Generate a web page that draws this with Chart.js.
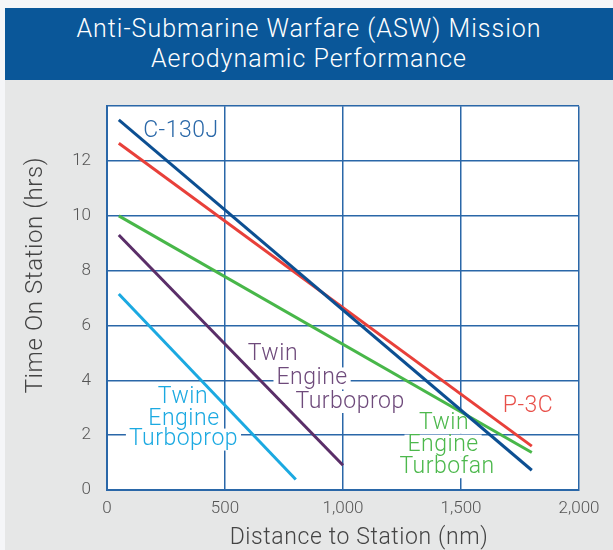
<!DOCTYPE html>
<html>
<head>
<meta charset="utf-8">
<script src="https://cdn.jsdelivr.net/npm/chart.js@4.4.0/dist/chart.umd.min.js"></script>
<style>
  html, body { margin: 0; padding: 0; background: #f5f6f8; }
  body { width: 613px; height: 550px; position: relative; overflow: hidden; font-family: Roboto, sans-serif; }
  #titleBar {
    position: absolute; left: 5px; top: 8px; width: 608px; height: 72px;
    background: #0a5799; color: #fff; text-align: center; font-weight: 300;
    font-size: 25px; line-height: 30px; padding-top: 6px; box-sizing: border-box; letter-spacing: 1px;
  }
  #chartBox { position: absolute; left: 5px; top: 80px; width: 608px; height: 470px; background: #e6e7e7; }
</style>
</head>
<body>
<div id="titleBar">Anti-Submarine Warfare (ASW) Mission<br>Aerodynamic Performance</div>
<div id="chartBox"><canvas id="aswChart"></canvas></div>
<script>
// data
const seriesNames = ['C-130J', 'P-3C', 'Twin Engine Turbofan', 'Twin Engine Turboprop (large)', 'Twin Engine Turboprop'];
const startNm = [50, 50, 50, 50, 50];
const endNm = [1800, 1800, 1800, 1000, 800];
const startHrs = [13.5, 12.65, 10.0, 9.3, 7.15];
const endHrs = [0.72, 1.6, 1.37, 0.9, 0.38];
const distanceTicks = [0, 500, 1000, 1500, 2000];
const hourTicks = [0, 2, 4, 6, 8, 10, 12];

const lineColors = ['#0c4f92', '#e8403a', '#48b749', '#5a2e68', '#1ba9e1'];
const gridBlue = '#2a67a8';

// in-chart labels (anchored in data units)
const chartLabels = [
    { text: 'C-130J', x: 313, y: 13.08, color: '#2a68a8' },
    { text: 'P-3C', x: 1784, y: 3.06, color: '#e8504a' },
    { text: 'Twin', x: 1428, y: 2.45, color: '#4cb84c' },
    { text: 'Engine', x: 1424, y: 1.62, color: '#4cb84c' },
    { text: 'Turbofan', x: 1441, y: 0.83, color: '#4cb84c' },
    { text: 'Twin', x: 703, y: 4.94, color: '#6e4a7b' },
    { text: 'Engine', x: 869, y: 4.07, color: '#6e4a7b' },
    { text: 'Turboprop', x: 1030, y: 3.21, color: '#6e4a7b' },
    { text: 'Twin', x: 322, y: 3.39, color: '#1ba9e1' },
    { text: 'Engine', x: 326, y: 2.59, color: '#1ba9e1' },
    { text: 'Turboprop', x: 324, y: 1.84, color: '#1ba9e1' }
];
const labelFont = '300 23px Roboto';

const datasets = seriesNames.map((name, i) => ({
    label: name,
    data: [{ x: startNm[i], y: startHrs[i] }, { x: endNm[i], y: endHrs[i] }],
    borderColor: lineColors[i],
    borderWidth: 3,
    pointRadius: 0,
    fill: false
}));

const lineLabels = {
    id: 'lineLabels',
    beforeDraw(chart) {
        const { ctx, chartArea: a } = chart;
        ctx.save();
        ctx.fillStyle = '#ffffff';
        ctx.fillRect(a.left, a.top, a.right - a.left, a.bottom - a.top);
        ctx.restore();
    },
    beforeDatasetsDraw(chart) {
        const { ctx, scales } = chart;
        ctx.save();
        ctx.font = labelFont;
        ctx.letterSpacing = '0.5px';
        ctx.fillStyle = '#ffffff';
        chartLabels.forEach(l => {
            const w = ctx.measureText(l.text).width;
            const px = scales.x.getPixelForValue(l.x);
            const py = scales.y.getPixelForValue(l.y);
            ctx.fillRect(px - w / 2 - 3, py - 11, w + 6, 22);
        });
        ctx.restore();
    },
    afterDatasetsDraw(chart) {
        const { ctx, scales, chartArea: a } = chart;
        ctx.save();
        ctx.font = labelFont;
        ctx.letterSpacing = '0.5px';
        ctx.textAlign = 'center';
        ctx.textBaseline = 'middle';
        chartLabels.forEach(l => {
            ctx.fillStyle = l.color;
            ctx.fillText(l.text, scales.x.getPixelForValue(l.x), scales.y.getPixelForValue(l.y));
        });
        // axis titles
        ctx.fillStyle = '#444';
        ctx.font = '300 23px Roboto';
        ctx.letterSpacing = '0.6px';
        ctx.fillText('Distance to Station (nm)', a.left + (a.right - a.left) / 2 + 16, chart.height - 12);
        ctx.translate(31, a.top + (a.bottom - a.top) / 2 - 23);
        ctx.rotate(-Math.PI / 2);
        ctx.font = '300 24px Roboto';
        ctx.fillText('Time On Station (hrs)', 0, 0);
        ctx.restore();
    }
};

document.addEventListener('DOMContentLoaded', () => {
    const ctx = document.getElementById('aswChart');
    new Chart(ctx, {
        type: 'line',
        data: { datasets: datasets },
        options: {
            responsive: true,
            maintainAspectRatio: false,
            animation: false,
            layout: { padding: { top: 24, right: 34, left: 0, bottom: 0 } },
            plugins: { legend: { display: false }, tooltip: { enabled: false } },
            scales: {
                x: {
                    type: 'linear',
                    min: distanceTicks[0],
                    max: distanceTicks[distanceTicks.length - 1],
                    afterBuildTicks: s => { s.ticks = distanceTicks.map(v => ({ value: v })); },
                    afterFit: s => { s.height = 60; },
                    grid: { color: gridBlue, lineWidth: 1.5, drawTicks: false },
                    border: { color: gridBlue, width: 2 },
                    ticks: {
                        padding: 9,
                        color: '#555',
                        font: { family: 'Roboto', size: 17, weight: 300 },
                        callback: v => v.toLocaleString('en-US')
                    }
                },
                y: {
                    min: 0,
                    max: 14,
                    afterBuildTicks: s => { s.ticks = hourTicks.concat([14]).map(v => ({ value: v })); },
                    afterFit: s => { s.width = 102; },
                    grid: { color: gridBlue, lineWidth: 1.5, drawTicks: false },
                    border: { color: gridBlue, width: 2 },
                    ticks: {
                        padding: 16,
                        color: '#555',
                        font: { family: 'Roboto', size: 17, weight: 300 },
                        callback: v => hourTicks.includes(v) ? v : ''
                    }
                }
            }
        },
        plugins: [lineLabels]
    });
});
</script>
</body>
</html>
